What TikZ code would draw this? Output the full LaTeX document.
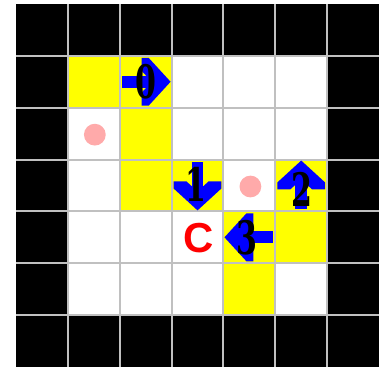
\documentclass[tikz,border=0pt]{standalone}
\usepackage{fontspec}
\setmainfont{Liberation Serif}
\newfontfamily\sansbold{Liberation Sans}
\newfontfamily\digitfont{DejaVu Serif}
\definecolor{gridgray}{RGB}{192,192,192}
\definecolor{dotpink}{RGB}{255,170,170}
\definecolor{ylw}{RGB}{255,255,0}
\definecolor{blu}{RGB}{0,0,255}
\newcommand\blockarrow[2]{%
  \begin{scope}[shift={#1},rotate=#2,scale=1/52]
    \fill[blu] (-24,-6) rectangle (8,6);
    \fill[blu] (-4,-24) -- (-4,-11) -- (6,0) -- (-4,11) -- (-4,24) -- (3,24) -- (25,0) -- (3,-24) -- cycle;
  \end{scope}}
\begin{document}
\begin{tikzpicture}[x=1cm,y=1cm,
  cellY/.style={fill=ylw},
  gridline/.style={draw=gridgray,line width=1.1pt},
  dot/.style={fill=dotpink},
  digit/.style={inner sep=0pt,text=black,font=\digitfont\bfseries\fontsize{22}{22}\selectfont},
  letter/.style={inner sep=0pt,text=red,font=\sansbold\bfseries\fontsize{23}{23}\selectfont}]
\useasboundingbox (-0.309,-0.02) rectangle (7.0,7.077);
% walls and floor
\fill[black] (0,0) rectangle (7,7);
\fill[white] (1,1) rectangle (6,6);
% yellow cells
\fill[cellY] (1,5) rectangle (3,6);
\fill[cellY] (2,4) rectangle (3,5);
\fill[cellY] (2,3) rectangle (4,4);
\fill[cellY] (5,3) rectangle (6,4);
\fill[cellY] (4,2) rectangle (6,3);
\fill[cellY] (4,1) rectangle (5,2);
% grid
\foreach \i in {1,...,6} {
  \draw[gridline] (\i,0) -- (\i,7);
  \draw[gridline] (0,\i) -- (7,\i);
}
% dots
\fill[dot] (1.52,4.48) circle (0.21);
\fill[dot] (4.52,3.48) circle (0.21);
% arrows
\blockarrow{(2.5,5.5)}{0}
\blockarrow{(3.5,3.5)}{-90}
\blockarrow{(5.5,3.5)}{90}
\blockarrow{(4.5,2.5)}{180}
% labels
\node[digit] (d0) at (2.5,5.5) {\scalebox{0.75}[1.15]{0}};
\node[digit] (d1) at (3.47,3.52) {\scalebox{0.75}[1.15]{1}};
\node[digit] (d2) at (5.52,3.42) {\scalebox{0.75}[1.15]{2}};
\node[digit] (d3) at (4.45,2.5) {\scalebox{0.75}[1.15]{3}};
\node[letter] (c) at (3.53,2.48) {C};
\end{tikzpicture}
\end{document}
